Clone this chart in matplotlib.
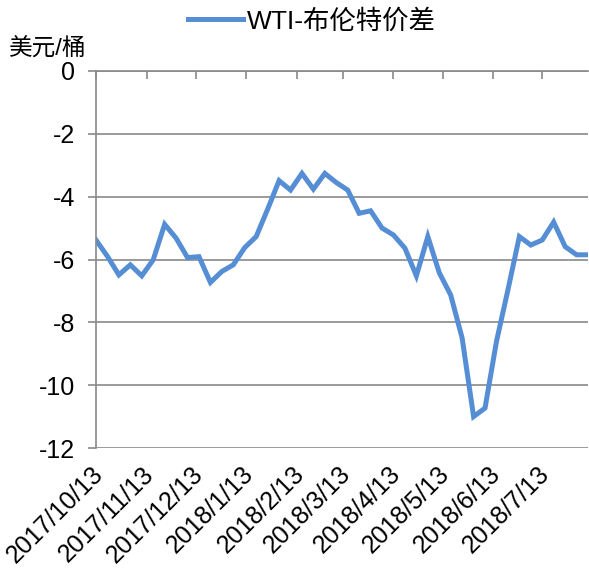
import matplotlib
matplotlib.use("Agg")
import matplotlib.pyplot as plt
from matplotlib.transforms import ScaledTranslation
import pandas as pd

plt.rcParams['font.family'] = ['Liberation Sans', 'Noto Sans CJK SC', 'DejaVu Sans']
plt.rcParams['axes.unicode_minus'] = False

# weekly data, Fridays
dates = pd.date_range('2017-10-13', periods=44, freq='7D')
spread = [-5.38, -5.90, -6.49, -6.17, -6.52, -6.01, -4.88, -5.32, -5.94, -5.91,
          -6.73, -6.38, -6.17, -5.62, -5.27, -4.40, -3.49, -3.79, -3.26, -3.76,
          -3.26, -3.55, -3.79, -4.53, -4.45, -5.00, -5.22, -5.64, -6.52, -5.27,
          -6.42, -7.13, -8.50, -11.00, -10.73, -8.61, -6.97, -5.27, -5.54, -5.38,
          -4.81, -5.59, -5.85, -5.85]
tick_dates = pd.to_datetime(['2017-10-13', '2017-11-13', '2017-12-13', '2018-01-13',
                             '2018-02-13', '2018-03-13', '2018-04-13', '2018-05-13',
                             '2018-06-13', '2018-07-13'])
tick_labels = ['2017/10/13', '2017/11/13', '2017/12/13', '2018/1/13', '2018/2/13',
               '2018/3/13', '2018/4/13', '2018/5/13', '2018/6/13', '2018/7/13']
y_ticks = [0, -2, -4, -6, -8, -10, -12]

grid_col = '#898989'

fig = plt.figure(figsize=(5.89, 5.68), dpi=100)
ax = fig.add_axes([96/589, 1-448/568, 492/589, 377/568])

line, = ax.plot(dates, spread, color='#558ED5', lw=3.6, solid_joinstyle='miter',
                label='WTI-布伦特价差')

ax.set_xlim(dates[0], dates[-1])
ax.set_ylim(-12, 0)
ax.set_yticks(y_ticks)
ax.set_yticklabels([str(v) for v in y_ticks])
ax.yaxis.grid(True, color=grid_col, lw=1.2)
ax.set_axisbelow(True)

ax.set_xticks(tick_dates)
ax.set_xticklabels(tick_labels, rotation=45, ha='right', va='top', rotation_mode='anchor')
ax.tick_params(axis='x', top=True, bottom=False, labeltop=False, labelbottom=True,
               direction='in', length=6, width=1.2, color=grid_col, labelsize=18, pad=10)
ax.tick_params(axis='y', direction='out', length=6, width=1.2, color=grid_col,
               labelsize=18, pad=9)
shift = ScaledTranslation(-5/100, 0, fig.dpi_scale_trans)
for lab in ax.get_xticklabels():
    lab.set_transform(lab.get_transform() + shift)

for s in ['right', 'bottom']:
    ax.spines[s].set_visible(False)
for s in ['left', 'top']:
    ax.spines[s].set_color(grid_col)
    ax.spines[s].set_linewidth(1.2)

fig.text(9/589, 1-49/568, '美元/桶', fontsize=17, va='center', ha='left', zorder=5,
         bbox=dict(facecolor='white', edgecolor='none', pad=1))

fig.legend(handles=[line], loc='center', bbox_to_anchor=(312/589, 1-21/568),
           frameon=False, fontsize=19, handlelength=2.1, handletextpad=0.15,
           borderpad=0, borderaxespad=0)

fig.savefig('out.png', dpi=100)
